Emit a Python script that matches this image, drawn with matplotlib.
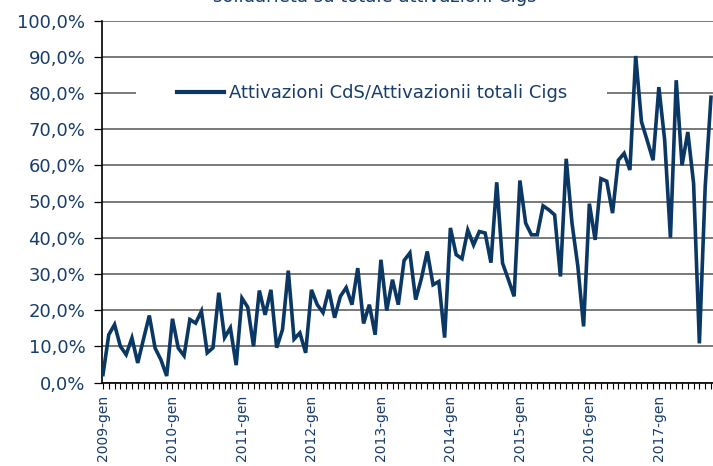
import numpy as np
import matplotlib.pyplot as plt
from matplotlib.patches import Rectangle
from matplotlib.ticker import FixedLocator, FuncFormatter

# monthly share (%) of CdS activations over total Cigs activations, 2009-gen .. 2017-ott
quota = [
    2.2, 13.2, 16.0, 10.0, 7.7, 12.3, 5.4, 12.0, 18.5, 9.5, 6.3, 1.8,          # 2009
    17.6, 9.5, 7.4, 17.4, 16.4, 19.7, 8.2, 9.6, 24.8, 12.4, 15.1, 4.8,         # 2010
    23.3, 20.8, 10.0, 25.4, 18.7, 25.6, 9.6, 14.6, 30.9, 12.0, 13.7, 8.2,      # 2011
    25.6, 21.5, 19.3, 25.6, 17.9, 23.8, 26.2, 21.5, 31.6, 16.3, 21.5, 13.2,    # 2012
    33.9, 19.9, 28.4, 21.5, 33.7, 35.8, 22.9, 28.8, 36.2, 27.0, 27.9, 12.4,    # 2013
    42.7, 35.3, 34.2, 42.1, 38.0, 41.7, 41.3, 33.1, 55.3, 33.0, 28.5, 23.8,    # 2014
    55.8, 44.0, 40.8, 40.8, 48.8, 47.7, 46.3, 29.3, 61.8, 44.0, 32.2, 15.5,    # 2015
    49.4, 39.4, 56.3, 55.6, 46.8, 61.4, 63.3, 58.7, 90.2, 72.0, 66.8, 61.4,    # 2016
    81.6, 67.0, 40.0, 83.5, 60.0, 69.2, 55.0, 10.8, 54.0, 78.8,                # 2017
]
anni = ["2009", "2010", "2011", "2012", "2013", "2014", "2015", "2016", "2017"]
titolo = "solidarietà su totale attivazioni Cigs"
serie = "Attivazioni CdS/Attivazionii totali Cigs"

blu = "#0a3763"
testo = "#173d6b"

fig = plt.figure(figsize=(7.13, 4.66), dpi=100)
W, H = 713, 466
ax = fig.add_axes([102 / W, 1 - 382.5 / H, 1 - 102 / W, (382.5 - 20.5) / H])

x = np.arange(len(quota))
ax.plot(x, quota, color=blu, lw=2.6, solid_joinstyle="miter", zorder=3)

ax.set_xlim(-0.17, 105.35)
ax.set_ylim(0, 100)

ax.set_yticks(np.arange(0, 101, 10))
ax.yaxis.set_major_formatter(FuncFormatter(lambda v, p: f"{v:.1f}%".replace(".", ",")))
ax.xaxis.set_major_locator(FixedLocator([12 * i for i in range(len(anni))]))
ax.set_xticklabels([a + "-gen" for a in anni], rotation=90, va="top", ha="center")
ax.xaxis.set_minor_locator(FixedLocator(np.arange(0, 106)))

ax.grid(axis="y", color="#555555", lw=1.1)
ax.set_axisbelow(True)
for s in ["top", "right"]:
    ax.spines[s].set_visible(False)
for s in ["left", "bottom"]:
    ax.spines[s].set_color("black")
    ax.spines[s].set_linewidth(1.2)

ax.tick_params(axis="y", length=6, width=0.9, pad=6, labelsize=13, labelcolor=testo)
ax.tick_params(axis="x", which="both", length=4, width=0.8, pad=5, labelsize=10,
               labelcolor=testo)

# white box behind the legend, hiding the gridline
ax.add_patch(Rectangle((135.5 / W, 1 - 104 / H), (607 - 135.5) / W, 21 / H,
                       transform=fig.transFigure, facecolor="white",
                       edgecolor="none", zorder=2))
leg = ax.legend([serie], loc="center", bbox_to_anchor=(372 / W, 1 - 93.5 / H),
                bbox_transform=fig.transFigure, frameon=False, fontsize=13,
                handlelength=2.6, handletextpad=0.3, labelcolor=testo)
leg.get_lines()[0].set_linewidth(3)
leg.set_zorder(5)

fig.text(375 / W, 1 - 1.5 / H, titolo, ha="center", va="baseline", fontsize=13,
         color=testo)

fig.savefig("out.png", dpi=100)
